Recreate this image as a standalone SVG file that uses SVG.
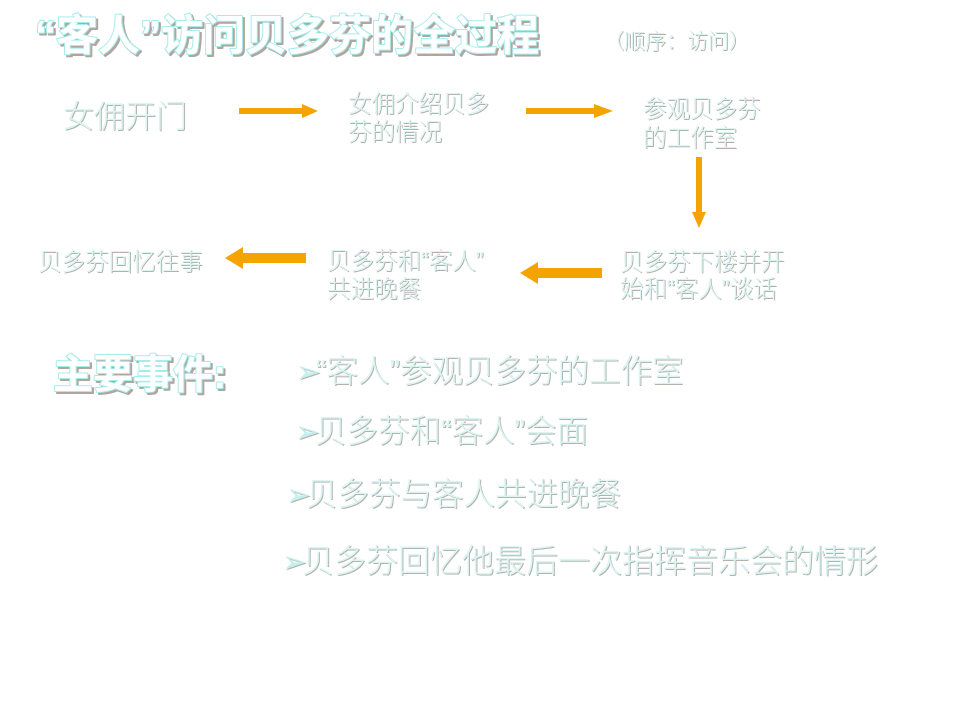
<svg xmlns="http://www.w3.org/2000/svg" width="960" height="720" viewBox="0 0 960 720">
<defs>
<style>
.t{font-family:"Liberation Sans","Noto Sans CJK SC",sans-serif;font-weight:300;fill:#daf5f4;filter:url(#emb)}
.h{font-family:"Liberation Sans","Noto Sans CJK SC",sans-serif;font-weight:bold;fill:#ffffff;stroke:#a6eceb;stroke-width:2;stroke-linejoin:round;paint-order:stroke;filter:url(#hs)}
.b{font-family:"DejaVu Sans",sans-serif;font-size:30px;fill:#c4f0ef;letter-spacing:-5px}
.ar{fill:#F4A300}
</style>
<filter id="emb" x="-5%" y="-25%" width="110%" height="150%">
<feOffset in="SourceAlpha" dx="1" dy="1" result="o1"/>
<feFlood flood-color="#b4b2ab"/>
<feComposite in2="o1" operator="in" result="sh"/>
<feMerge><feMergeNode in="sh"/><feMergeNode in="SourceGraphic"/></feMerge>
</filter>
<filter id="hs" x="-5%" y="-25%" width="110%" height="150%">
<feOffset in="SourceAlpha" dx="2" dy="2" result="o1"/>
<feGaussianBlur in="o1" stdDeviation="0.6" result="b1"/>
<feFlood flood-color="#aea69f"/>
<feComposite in2="b1" operator="in" result="sh"/>
<feMerge><feMergeNode in="sh"/><feMergeNode in="SourceGraphic"/></feMerge>
</filter>
</defs>
<rect width="960" height="720" fill="#ffffff"/>

<g id="title">
<text class="h" x="35" y="50" font-size="42">“客人”访问贝多芬的全过程</text>
<text class="t" x="603" y="48" font-size="21">（顺序：访问）</text>
</g>

<g id="n1"><text class="t" x="63" y="127" font-size="31">女佣开门</text></g>
<g id="n2"><text class="t" font-size="23.5"><tspan x="348" y="112">女佣介绍贝多</tspan><tspan x="348" y="140">芬的情况</tspan></text></g>
<g id="n3"><text class="t" font-size="23.5"><tspan x="643" y="117">参观贝多芬</tspan><tspan x="643" y="146">的工作室</tspan></text></g>
<g id="n4"><text class="t" font-size="23.5"><tspan x="620" y="270">贝多芬下楼并开</tspan><tspan x="620" y="297">始和“客人”谈话</tspan></text></g>
<g id="n5"><text class="t" font-size="23.5"><tspan x="327" y="269">贝多芬和“客人”</tspan><tspan x="327" y="297">共进晚餐</tspan></text></g>
<g id="n6"><text class="t" x="38" y="270" font-size="23.5">贝多芬回忆往事</text></g>

<g id="connectors">
<polygon class="ar" points="239,108 302,108 302,104 318,111 302,118 302,114 239,114"/>
<polygon class="ar" points="526,108 594,108 594,104 613,111 594,118 594,114 526,114"/>
<polygon class="ar" points="696,157 702,157 702,212 706,212 699,228 692,212 696,212"/>
<polygon class="ar" points="602,268 538,268 538,262 520,273 538,284 538,278 602,278"/>
<polygon class="ar" points="306,253 243,253 243,247 225,258 243,269 243,263 306,263"/>
</g>

<g id="events">
<text class="h" x="53" y="388" font-size="40">主要事件:</text>
<text class="t" x="296" y="382" font-size="31.5"><tspan class="b">➢</tspan>“客人”参观贝多芬的工作室</text>
<text class="t" x="295" y="442" font-size="31.5"><tspan class="b">➢</tspan>贝多芬和“客人”会面</text>
<text class="t" x="286" y="505" font-size="31.5"><tspan class="b">➢</tspan>贝多芬与客人共进晚餐</text>
<text class="t" x="282" y="572" font-size="32"><tspan class="b">➢</tspan>贝多芬回忆他最后一次指挥音乐会的情形</text>
</g>
</svg>
